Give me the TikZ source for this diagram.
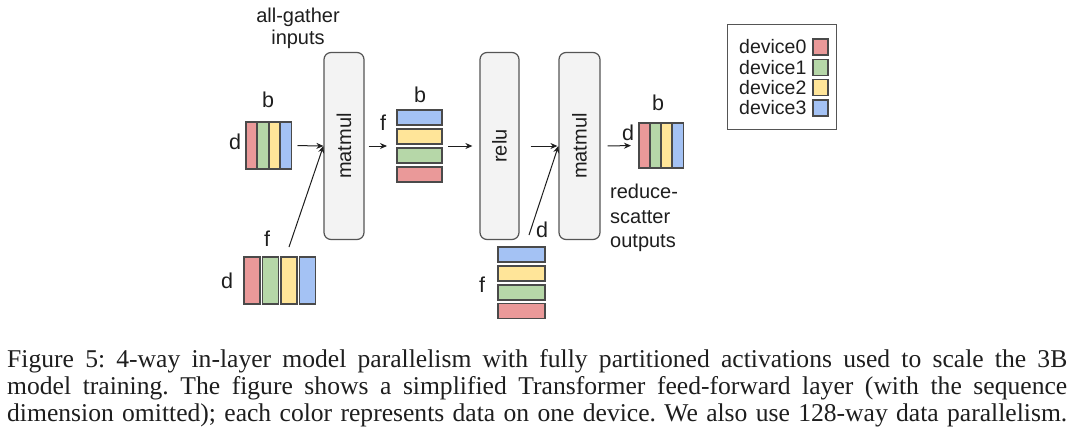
\documentclass[tikz,border=0pt]{standalone}
\usepackage{fontspec}
\setmainfont{Liberation Serif}
\newfontfamily\dsans{Liberation Sans}
\usetikzlibrary{fit,arrows.meta}
\definecolor{cR}{HTML}{EA9999}
\definecolor{cG}{HTML}{B6D7A8}
\definecolor{cY}{HTML}{FFE599}
\definecolor{cB}{HTML}{A4C2F4}
\definecolor{barline}{HTML}{4A4A4A}
\definecolor{boxline}{HTML}{555555}
\definecolor{boxfill}{HTML}{F3F3F3}
\definecolor{txt}{HTML}{1E1E1E}
\frenchspacing
\begin{document}
\begin{tikzpicture}[x=1pt,y=-1pt,
  bar/.style={draw=barline, line width=1.1pt, inner sep=0pt, outer sep=0pt, anchor=north west},
  opbox/.style={draw=boxline, fill=boxfill, rounded corners=7pt, line width=1.2pt, inner sep=0pt, minimum width=40pt, minimum height=187pt},
  lab/.style={font=\dsans\fontsize{20}{24}\selectfont, text=txt, inner sep=0pt},
  letter/.style={font=\dsans\fontsize{21.5}{24}\selectfont, text=txt, inner sep=0pt},
  arr/.style={-{Stealth[length=7pt,width=6pt]}, line width=1pt, draw=txt},
  grp/.style={inner sep=0pt, outer sep=0pt},
  capline/.style={anchor=base west, inner sep=0pt, font=\fontsize{25.6}{27}\selectfont, text=txt}]
\useasboundingbox[fill=white] (0,0) rectangle (1080,434);

% operation boxes
\node[opbox] (mm1) at (344,146) {};
\node[lab, rotate=90] (mm1t) at (mm1) {matmul};
\node[opbox, minimum width=39pt] (relu) at (499.5,146) {};
\node[lab, rotate=90] (relut) at (relu) {relu};
\node[opbox, minimum width=41pt] (mm2) at (579.5,146) {};
\node[lab, rotate=90] (mm2t) at (mm2) {matmul};

% group 1: input activations (vertical bars)
\node[bar, fill=cR, minimum width=11pt, minimum height=47pt] (a1) at (246,122) {};
\node[bar, fill=cG, minimum width=11pt, minimum height=47pt] (a2) at (257.5,122) {};
\node[bar, fill=cY, minimum width=11pt, minimum height=47pt] (a3) at (269,122) {};
\node[bar, fill=cB, minimum width=11pt, minimum height=47pt] (a4) at (280.5,122) {};
\node[grp, fit=(a1)(a4)] (G1) {};
\node[letter] (G1b) at (268,100) {b};
\node[letter] (G1d) at (235,142) {d};

% group 2: weights (vertical bars)
\node[bar, fill=cR, minimum width=16pt, minimum height=47pt] (w1) at (244,257) {};
\node[bar, fill=cG, minimum width=16pt, minimum height=47pt] (w2) at (262.5,257) {};
\node[bar, fill=cY, minimum width=16pt, minimum height=47pt] (w3) at (281,257) {};
\node[bar, fill=cB, minimum width=16pt, minimum height=47pt] (w4) at (299.5,257) {};
\node[grp, fit=(w1)(w4)] (G2) {};
\node[letter] (G2f) at (267,239) {f};
\node[letter] (G2d) at (227,281) {d};
\coordinate (c1) at (289,247);

% group 3: hidden activations (horizontal bars)
\node[bar, fill=cB, minimum width=45pt, minimum height=15pt] (h1) at (397,110) {};
\node[bar, fill=cY, minimum width=45pt, minimum height=15pt] (h2) at (397,129) {};
\node[bar, fill=cG, minimum width=45pt, minimum height=15pt] (h3) at (397,148) {};
\node[bar, fill=cR, minimum width=45pt, minimum height=15pt] (h4) at (397,167) {};
\node[grp, fit=(h1)(h4)] (G3) {};
\node[letter] (G3b) at (420,95) {b};
\node[letter] (G3f) at (383,123) {f};

% group 4: second weights (horizontal bars)
\node[bar, fill=cB, minimum width=47pt, minimum height=15pt] (v1) at (498,247) {};
\node[bar, fill=cY, minimum width=47pt, minimum height=15pt] (v2) at (498,266) {};
\node[bar, fill=cG, minimum width=47pt, minimum height=15pt] (v3) at (498,285) {};
\node[bar, fill=cR, minimum width=47pt, minimum height=15pt] (v4) at (498,303.5) {};
\node[grp, fit=(v1)(v4)] (G4) {};
\node[letter] (G4f) at (482,285) {f};
\node[letter] (G4d) at (542,230) {d};
\coordinate (c2) at (529,235);

% group 5: outputs (vertical bars)
\node[bar, fill=cR, minimum width=10.5pt, minimum height=45pt] (o1) at (639,123) {};
\node[bar, fill=cG, minimum width=10.5pt, minimum height=45pt] (o2) at (650.2,123) {};
\node[bar, fill=cY, minimum width=10.5pt, minimum height=45pt] (o3) at (661.5,123) {};
\node[bar, fill=cB, minimum width=10.5pt, minimum height=45pt] (o4) at (672.7,123) {};
\node[grp, fit=(o1)(o4)] (G5) {};
\node[letter] (G5b) at (658,103) {b};
\node[letter] (G5d) at (628,133) {d};

% annotations
\node[lab, align=center, font=\dsans\fontsize{20}{22}\selectfont] (ag) at (298,28) {all-gather\\inputs};
\node[lab, align=left, anchor=west, font=\dsans\fontsize{20}{24.5}\selectfont] (rs) at (610,218) {reduce-\\scatter\\outputs};

% connectors
\draw[arr, shorten <=6pt] (G1.east) -- (mm1.west);
\draw[arr] (c1) -- (mm1.west);
\draw[arr, shorten <=4pt, shorten >=10pt] (mm1.east) -- (G3.west);
\draw[arr, shorten <=6pt, shorten >=7pt] (G3.east) -- (relu.west);
\draw[arr, shorten <=11pt, shorten >=1pt] (relu.east) -- (mm2.west);
\draw[arr] (c2) -- (mm2.west);
\draw[arr, shorten <=7pt, shorten >=8pt] (mm2.east) -- (G5.west);

% legend
\node[draw=boxline, line width=1.2pt, fill=white, minimum width=109pt, minimum height=105pt, inner sep=0pt, anchor=north west] (leg) at (727,24) {};
\foreach \i/\c/\y in {0/cR/47,1/cG/67.3,2/cY/87.6,3/cB/108} {
  \node[lab, anchor=west, font=\dsans\fontsize{19.5}{20}\selectfont] (lt\i) at (739,\y) {device\i};
  \node[draw=barline, line width=1.1pt, fill=\c, minimum width=15pt, minimum height=16pt, inner sep=0pt] (ls\i) at (820.5,\y) {};
}

% caption
\node[capline] (cap1) at (7,367) {\makebox[1060pt][s]{Figure 5: 4-way in-layer model parallelism with fully partitioned activations used to scale the 3B}};
\node[capline] (cap2) at (7,394) {\makebox[1060pt][s]{model training. The figure shows a simplified Transformer feed-forward layer (with the sequence}};
\node[capline] (cap3) at (7,421) {\makebox[1060pt][s]{dimension omitted); each color represents data on one device. We also use 128-way data parallelism.}};
\end{tikzpicture}
\end{document}
